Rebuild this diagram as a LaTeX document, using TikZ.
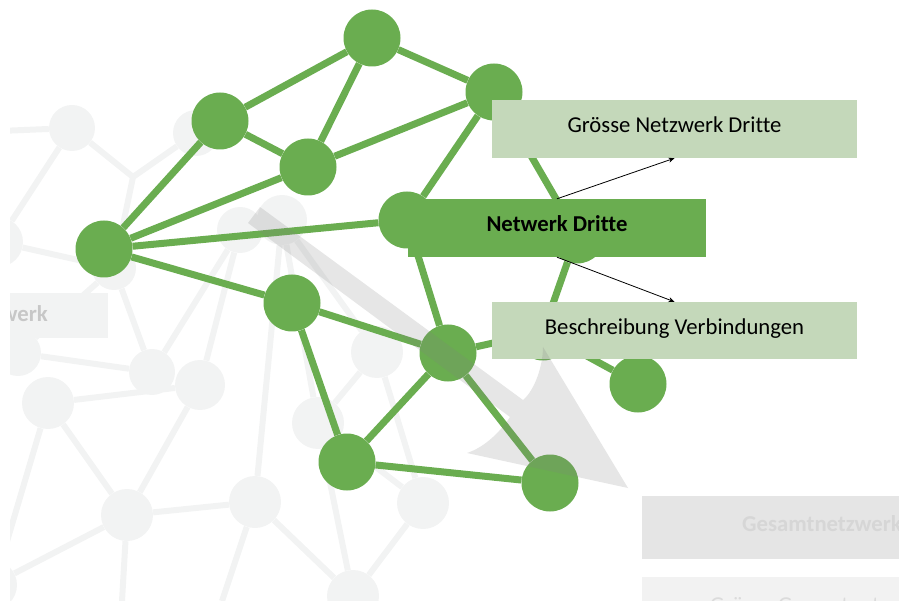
\documentclass[tikz,border=0pt]{standalone}
\usepackage{fontspec}
\setmainfont{Carlito}[Ligatures=NoCommon]
\usetikzlibrary{arrows.meta}
\definecolor{netgreen}{RGB}{106,173,80}
\definecolor{boxgreen}{RGB}{196,216,186}
\definecolor{fadegray}{RGB}{242,243,243}

\begin{document}
\begin{tikzpicture}[x=1pt, y=-1pt, font=\fontsize{22.7}{27}\selectfont,
	netnode/.style={circle, fill=netgreen, minimum size=57pt, inner sep=0pt},
	fadenode/.style={circle, fill=fadegray, minimum size=50pt, inner sep=0pt},
	netedge/.style={draw=netgreen, line width=7pt},
	fadeedge/.style={draw=fadegray, line width=6pt},
	labelbox/.style={fill=boxgreen, minimum width=365pt, minimum height=58pt, inner sep=0pt, text height=13.6pt, text depth=5.7pt}]
	\useasboundingbox (0,0) rectangle (899,601);
	\clip (10,0) rectangle (899,601);

	\node[fadenode, minimum size=46pt] (f1) at (72,128) {};
	\node[fadenode, minimum size=46pt] (f2) at (196,133) {};
	\node[fadenode] (f3) at (-2,242) {};
	\node[fadenode, minimum size=44pt] (f4) at (114,268) {};
	\node[fadenode, minimum size=46pt] (f5) at (240,230) {};
	\node[fadenode] (f6) at (282,220) {};
	\node[fadenode, minimum size=46pt] (f7) at (18,353) {};
	\node[fadenode, minimum size=46pt] (f8) at (152,372) {};
	\node[fadenode] (f9) at (200,385) {};
	\node[fadenode, minimum size=52pt] (f10) at (48,403) {};
	\node[fadenode, minimum size=52pt] (f11) at (127,515) {};
	\node[fadenode, minimum size=52pt] (f12) at (255,502) {};
	\node[fadenode, minimum size=52pt] (f13) at (318,423) {};
	\node[fadenode, minimum size=52pt] (f14) at (377,352) {};
	\node[fadenode, minimum size=52pt] (f15) at (423,503) {};
	\node[fadenode, minimum size=52pt] (f16) at (353,596) {};
	\node[fadenode] (f17) at (-8,585) {};
	\coordinate (fj) at (133,177);
	\coordinate (fw1) at (0,131);
	\coordinate (fw2) at (0,565);
	\coordinate (fw3) at (122,601);
	\coordinate (fw4) at (222,601);
	\foreach \a/\b in {fw1/f1, f1/fj, fj/f2, f1/f3, fj/f4, f3/f4, f4/f8, f4/f7, f7/f8, f8/f5, f9/f5, f10/f9, f10/f11, f9/f11, f10/fw2, f11/fw3, f11/f17, f11/f12, f12/f6, f12/fw4, f12/f16, f6/f13, f6/f14, f13/f14, f14/f15, f13/f16, f15/f16, f13/f15}
		\draw[fadeedge] (\a) -- (\b);

	\node[fill=fadegray, minimum width=98pt, minimum height=45pt, inner sep=0pt] (wbox) at (59,315.5) {};
	\node[anchor=east, inner sep=0pt, text=black!22, font=\fontsize{22.7}{27}\selectfont\bfseries] (wtext) at (48,314) {werk};

	\node[netnode] (A) at (372,38) {};
	\node[netnode] (B) at (220,121) {};
	\node[netnode] (C) at (494,92) {};
	\node[netnode] (D) at (308,167) {};
	\node[netnode] (E) at (104,249) {};
	\node[netnode] (F) at (407,220) {};
	\node[netnode] (G) at (577,235) {};
	\node[netnode] (H) at (292,303) {};
	\node[netnode] (I) at (448,353) {};
	\node[netnode] (J) at (638,384) {};
	\node[netnode] (K) at (347,462) {};
	\node[netnode] (L) at (550,483) {};
	\node[netnode] (M) at (543,332) {};
	\foreach \a/\b in {A/B, A/C, A/D, B/D, B/E, D/E, C/D, E/F, E/H, C/F, C/G, F/I, G/M, I/M, M/J, H/I, H/K, I/K, K/L, I/L}
		\draw[netedge] (\a) -- (\b);

	\node[labelbox, fill=netgreen, minimum width=298pt, font=\fontsize{22.7}{27}\selectfont\bfseries] (nd) at (557,228) {Netwerk Dritte};
	\node[labelbox] (gn) at (674.5,129) {Grösse Netzwerk Dritte};
	\node[labelbox, minimum height=57pt] (bv) at (674.5,330.5) {Beschreibung Verbindungen};
	\draw[-{Stealth[length=6pt,width=5pt]}, line width=0.8pt] (nd.north) -- (gn.south);
	\draw[-{Stealth[length=6pt,width=5pt]}, line width=0.8pt] (nd.south) -- (bv.north);

	\fill[gray, fill opacity=0.2] (260,207) -- (523,400) .. controls (535,390) and (543,365) .. (543,347) -- (628,488) -- (467,453) .. controls (485,447) and (500,432) .. (510,417) -- (248,223) -- cycle;

	\node[labelbox, fill=black!10, minimum width=360pt, minimum height=63pt, text=black!16, font=\fontsize{22.7}{27}\selectfont\bfseries] (gs) at (822,527.5) {Gesamtnetzwerk};
	\node[labelbox, fill=black!5, minimum width=360pt, minimum height=63pt, text=black!14] (gg) at (822,608.5) {Grösse Gesamtnetzwerk};
\end{tikzpicture}
\end{document}
